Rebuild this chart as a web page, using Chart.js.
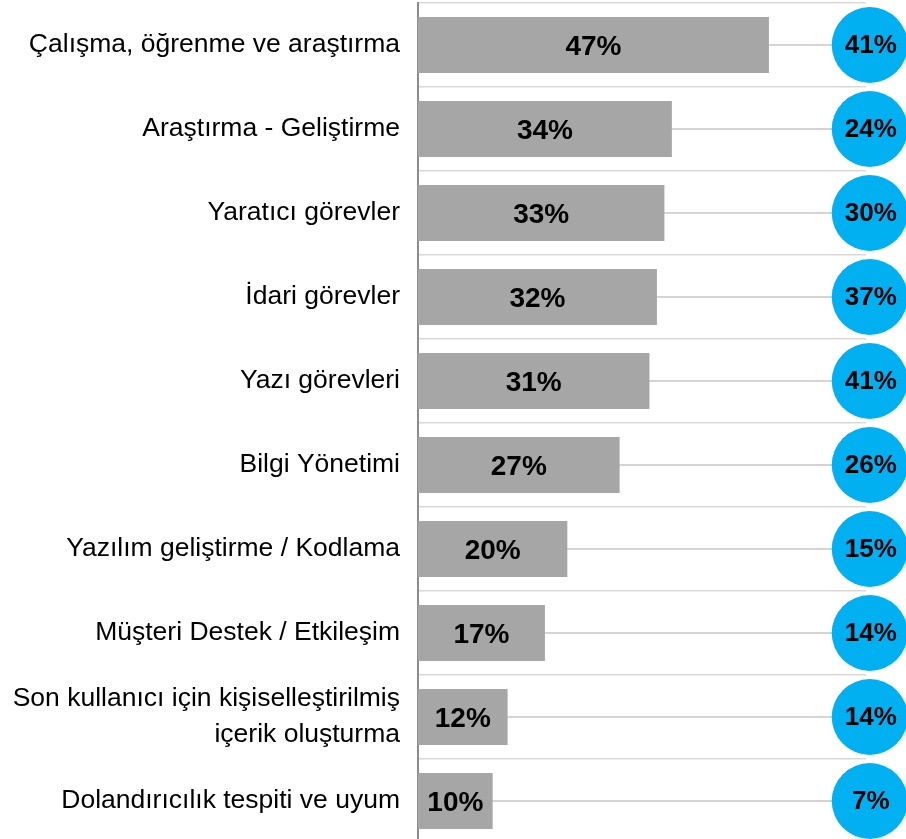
<!DOCTYPE html>
<html>
<head>
<meta charset="utf-8">
<script src="https://cdn.jsdelivr.net/npm/chart.js@4/dist/chart.umd.min.js"></script>
<style>
    html, body { margin: 0; padding: 0; background: #fff; overflow: hidden; }
    #wrap { width: 906px; height: 845px; }
</style>
</head>
<body>
<div id="wrap"><canvas id="taskChart" width="906" height="845"></canvas></div>
<script>
// Categories (top to bottom)
var categories = [
    "Çalışma, öğrenme ve araştırma",
    "Araştırma - Geliştirme",
    "Yaratıcı görevler",
    "İdari görevler",
    "Yazı görevleri",
    "Bilgi Yönetimi",
    "Yazılım geliştirme / Kodlama",
    "Müşteri Destek / Etkileşim",
    ["Son kullanıcı için kişiselleştirilmiş", "içerik oluşturma"],
    "Dolandırıcılık tespiti ve uyum"
];

// Grey bars
var barValues = [47, 34, 33, 32, 31, 27, 20, 17, 12, 10];

// Blue circles
var circleValues = [41, 24, 30, 37, 41, 26, 15, 14, 14, 7];

// Where the circles sit on the value axis (just past the plot's right edge)
var CIRCLE_X = 60.5;

var FONT = "Arial, 'Liberation Sans', sans-serif";

// Draw the percentage text on bars and inside circles
var valueLabels = {
    id: "valueLabels",
    afterDatasetsDraw: function (chart) {
        var ctx = chart.ctx;
        ctx.save();
        ctx.textAlign = "center";
        ctx.textBaseline = "middle";
        ctx.fillStyle = "#000";

        ctx.font = "bold 28px " + FONT;
        chart.getDatasetMeta(1).data.forEach(function (bar, i) {
            var cx = (bar.x + bar.base) / 2;
            ctx.fillText(barValues[i] + "%", cx, bar.y + 2);
        });

        ctx.font = "bold 26px " + FONT;
        chart.getDatasetMeta(2).data.forEach(function (pt, i) {
            ctx.fillText(circleValues[i] + "%", pt.x + 1, pt.y + 1);
        });
        ctx.restore();
    }
};

var ctx = document.getElementById("taskChart").getContext("2d");

window.taskChart = new Chart(ctx, {
    type: "bar",
    data: {
        labels: categories,
        datasets: [
            {
                // thin connector from bar end to circle
                type: "bar",
                indexAxis: "y",
                data: barValues.map(function (v) { return [v, CIRCLE_X]; }),
                backgroundColor: "#d4d4d4",
                barThickness: 1.5,
                grouped: false,
                order: 3
            },
            {
                type: "bar",
                indexAxis: "y",
                data: barValues,
                backgroundColor: "#a6a6a6",
                barPercentage: 0.667,
                categoryPercentage: 1,
                grouped: false,
                order: 2
            },
            {
                type: "line",
                indexAxis: "y",
                data: circleValues.map(function () { return CIRCLE_X; }),
                showLine: false,
                pointRadius: 38,
                pointHoverRadius: 38,
                pointBackgroundColor: "#00b0f0",
                pointBorderWidth: 0,
                clip: false,
                order: 1
            }
        ]
    },
    options: {
        indexAxis: "y",
        responsive: false,
        animation: false,
        layout: {
            autoPadding: false,
            padding: { top: 3, right: 40, bottom: 2, left: 0 }
        },
        plugins: {
            legend: { display: false },
            tooltip: { enabled: false }
        },
        scales: {
            x: {
                display: false,
                min: 0,
                max: 60
            },
            y: {
                afterFit: function (scale) {
                    scale.width = 418;
                    scale.paddingTop = 0;
                    scale.paddingBottom = 0;
                },
                grid: {
                    color: "#d9d9d9",
                    lineWidth: 1.5,
                    drawTicks: false,
                    offset: true
                },
                border: {
                    display: true,
                    color: "#8c8c8c",
                    width: 2
                },
                ticks: {
                    color: "#000",
                    padding: 18,
                    font: { family: FONT, size: 26.5, lineHeight: 1.35 }
                }
            }
        }
    },
    plugins: [valueLabels]
});
</script>
</body>
</html>
